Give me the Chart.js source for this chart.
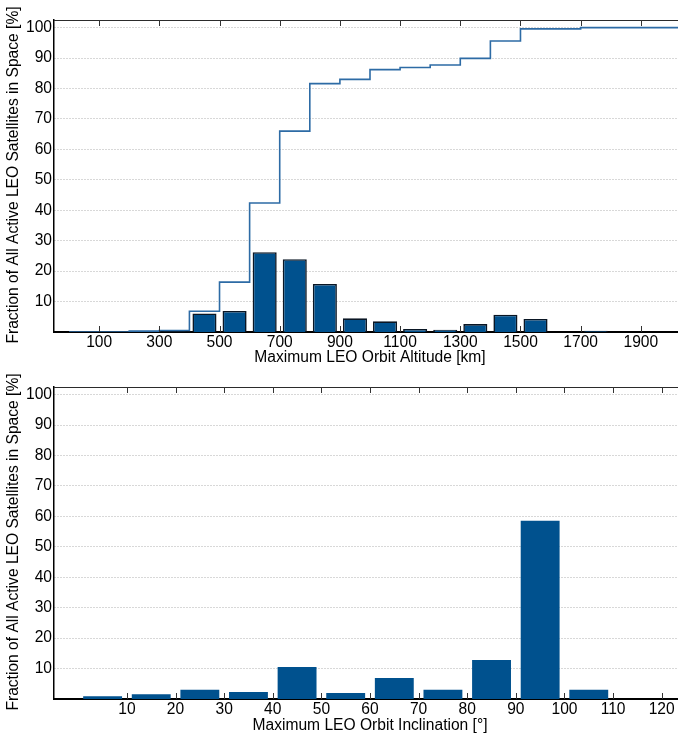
<!DOCTYPE html>
<html><head><meta charset="utf-8">
<script src="https://cdn.jsdelivr.net/npm/chart.js@4"></script>
<style>
html,body{margin:0;padding:0;background:#fff;overflow:hidden;width:678px;height:735px;position:relative;}
#c1{position:absolute;left:0;top:0;}
#c2{position:absolute;left:0;top:367px;}
</style></head><body>
<canvas id="c1" width="688" height="367"></canvas>
<canvas id="c2" width="688" height="368"></canvas>
<script>
// ---- Data: altitude histogram (bins of 100 km, given by centre) ----
const altBinCenters = [50,150,250,350,450,550,650,750,850,950,1050,1150,1250,1350,1450,1550,1650,1750,1850,1950];
const altFraction   = [null,null,0.3,0.2,6.1,6.9,26.2,23.9,15.8,4.5,3.5,1.0,0.75,2.6,5.7,4.3,null,0.4,null,null];
// cumulative (step) line: value holds from each edge to the next
const altCumEdges   = [0,200,300,400,500,600,700,800,900,1000,1100,1200,1300,1400,1500,1700,2050];
const altCumValues  = [0,0.3,0.5,6.8,16.4,42.4,66.0,81.6,83.0,86.2,86.9,87.7,89.9,95.6,99.6,100,100];
const altTicks      = [100,300,500,700,900,1100,1300,1500,1700,1900];

// ---- Data: inclination histogram (bins of 10 deg, given by centre) ----
const incBinCenters = [5,15,25,35,45,55,65,75,85,95,105,115];
const incFraction   = [0.9,1.6,3.0,2.3,10.5,2.0,6.9,3.0,12.8,58.6,3.0,null];
const incTicks      = [10,20,30,40,50,60,70,80,90,100,110,120];

const yTicks = [10,20,30,40,50,60,70,80,90,100];
const yTitle = 'Fraction of All Active LEO Satellites in Space [%]';
const altTitle = 'Maximum LEO Orbit Altitude [km]';
const incTitle = 'Maximum LEO Orbit Inclination [°]';

const FONT_SIZE = 15.6;
Chart.defaults.font.family = '"Liberation Sans", Arial, sans-serif';
Chart.defaults.font.size = FONT_SIZE;
Chart.defaults.color = '#000';

const BAR_FILL = '#00518e';

const framePlugin = {
  id: 'frame',
  afterDatasetsDraw(chart) {
    const {ctx, chartArea: a, scales: {x}} = chart;
    ctx.save();
    ctx.strokeStyle = '#2b2b2b';
    ctx.lineWidth = 1;
    ctx.beginPath();
    ctx.moveTo(a.left, a.top + 0.5);
    ctx.lineTo(a.right, a.top + 0.5);
    ctx.stroke();
    ctx.strokeStyle = '#333';
    ctx.beginPath();
    x.ticks.forEach(t => {
      const px = Math.round(x.getPixelForValue(t.value)) + 0.5;
      ctx.moveTo(px, a.top); ctx.lineTo(px, a.top + 6);
      ctx.moveTo(px, a.bottom); ctx.lineTo(px, a.bottom - 6);
    });
    ctx.stroke();
    ctx.fillStyle = '#000';
    ctx.font = FONT_SIZE + 'px "Liberation Sans", Arial, sans-serif';
    ctx.translate(14, (a.top + a.bottom) / 2 - 1);
    ctx.rotate(-Math.PI / 2);
    ctx.textAlign = 'center';
    ctx.textBaseline = 'middle';
    ctx.fillText(yTitle, 0, 0);
    ctx.restore();
  }
};

function makeChart(canvas, datasets, xMin, xMax, xTicks, xTitle, xAxisHeight) {
  return new Chart(canvas, {
    type: 'bar',
    data: {datasets},
    options: {
      responsive: false,
      animation: false,
      events: [],
      layout: {padding: {top: 20, right: 2, left: 0, bottom: 0}},
      plugins: {legend: {display: false}, tooltip: {enabled: false}},
      scales: {
        x: {
          type: 'linear', min: xMin, max: xMax, offset: false,
          afterBuildTicks: s => { s.ticks = xTicks.map(v => ({value: v})); },
          afterFit: s => { s.height = xAxisHeight; },
          grid: {display: false, drawTicks: false, offset: false},
          border: {display: true, color: '#000', width: 2},
          ticks: {padding: 1, color: '#000', font: {size: FONT_SIZE}, callback: v => String(v), maxRotation: 0, autoSkip: false},
          title: {display: true, text: xTitle, color: '#000', font: {size: FONT_SIZE}, padding: {top: 0, bottom: 0}}
        },
        y: {
          type: 'linear', min: 0, max: 102.5,
          afterBuildTicks: s => { s.ticks = yTicks.map(v => ({value: v})); },
          afterFit: s => { s.width = 54; },
          grid: {color: '#b0b0b0', lineWidth: 1, drawTicks: false},
          border: {display: true, color: '#000', width: 1.5, dash: [1, 2]},
          ticks: {padding: 2, color: '#000', font: {size: FONT_SIZE}, callback: v => String(v)}
        }
      }
    },
    plugins: [framePlugin]
  });
}

makeChart(document.getElementById('c1'), [
  {
    type: 'line',
    data: altCumEdges.map((x, i) => ({x, y: altCumValues[i]})),
    stepped: true,
    borderColor: '#2d6ba5',
    borderWidth: 1.6,
    pointRadius: 0,
    fill: false,
    order: 0
  },
  {
    type: 'bar',
    data: altBinCenters.map((x, i) => ({x, y: altFraction[i]})),
    backgroundColor: BAR_FILL,
    borderColor: '#0a1624',
    borderWidth: 1.6,
    barPercentage: 0.8,
    categoryPercentage: 1,
    order: 1
  }
], -50, 2050, altTicks, altTitle, 35);

makeChart(document.getElementById('c2'), [
  {
    type: 'bar',
    data: incBinCenters.map((x, i) => ({x, y: incFraction[i]})),
    backgroundColor: BAR_FILL,
    borderWidth: 0,
    barPercentage: 0.8,
    categoryPercentage: 1
  }
], -5, 125, incTicks, incTitle, 36);
</script>
</body></html>
